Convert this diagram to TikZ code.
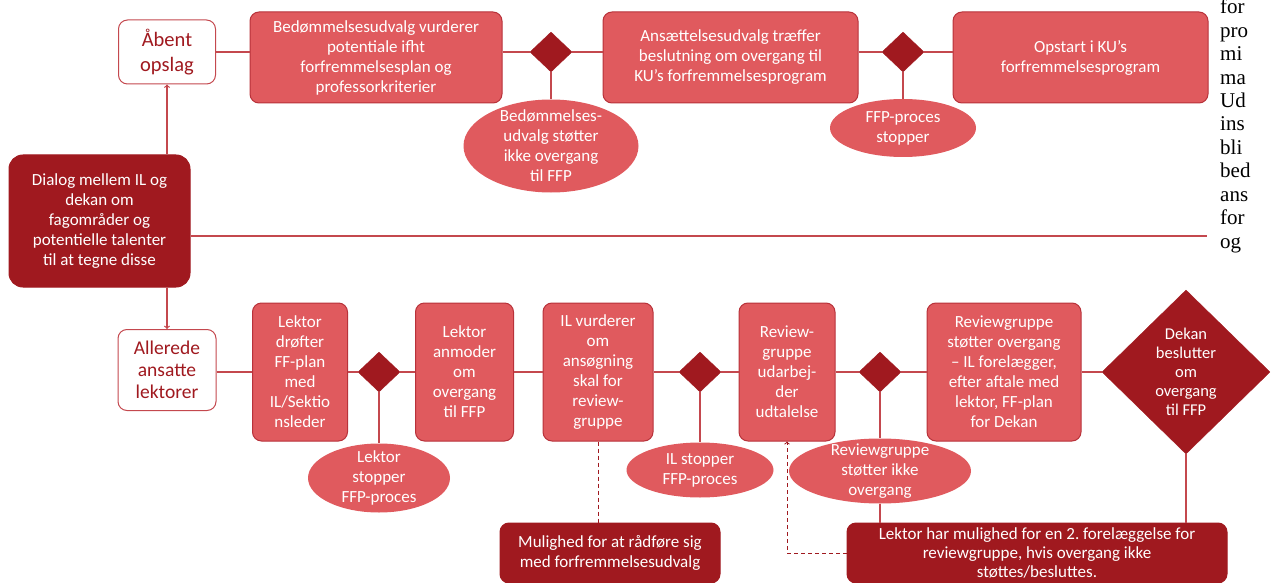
\documentclass[tikz,border=0pt]{standalone}
\usepackage{fontspec}
\setmainfont{Liberation Serif}
\setsansfont{Carlito}
\usepackage{tikz}
\usetikzlibrary{arrows,shapes.geometric}
\usetikzlibrary{positioning}
\tikzset{>=to}
\frenchspacing

\definecolor{kured}{HTML}{E05A5E}
\definecolor{kuedge}{HTML}{B8323A}
\definecolor{kudark}{HTML}{A0191F}
\definecolor{kuline}{HTML}{C4484E}

\begin{document}
\begin{tikzpicture}[x=1pt, y=-1pt, on grid,
	proc/.style={rectangle, rounded corners=9pt, draw=kuedge, line width=1pt, fill=kured, text=white, align=center, inner sep=1pt, font=\sffamily\fontsize{17}{20}\selectfont},
	entry/.style={rectangle, rounded corners=9pt, draw=kuline, line width=1pt, fill=white, text=kudark, align=center, font=\sffamily\fontsize{20.5}{24.5}\selectfont},
	note/.style={proc, fill=kudark, draw=kudark},
	decide/.style={diamond, fill=kudark, draw=kudark, inner sep=0pt, minimum width=42pt, minimum height=40pt},
	halt/.style={ellipse, fill=kured, text=white, align=center, inner xsep=0pt, inner ysep=-7pt, font=\sffamily\fontsize{17}{20}\selectfont},
	link/.style={draw=kuline, line width=1.2pt},
	hint/.style={draw=kudark, line width=1pt, dash pattern=on 4pt off 3pt}]
	\useasboundingbox (0,0) rectangle (1272,583);

	% top row
	\node[entry, minimum width=97pt, minimum height=64pt] (open) at (167,52) {Åbent\\opslag};
	\node[proc, minimum width=252pt, minimum height=91pt] (b1) at (376,57.5) {Bedømmelsesudvalg vurderer\\potentiale ifht\\forfremmelsesplan og\\professorkriterier};
	\node[decide] (d1) at (551,52) {};
	\node[halt, minimum width=175pt, minimum height=93pt] (e1) [below=94pt of d1] {Bedømmelses-\\udvalg støtter\\ikke overgang\\til FFP};
	\node[proc, minimum width=255pt, minimum height=91pt] (b2) at (730.5,57.5) {Ansættelsesudvalg træffer\\beslutning om overgang til\\KU's forfremmelsesprogram};
	\node[decide] (d2) at (903,52) {};
	\node[halt, minimum width=146pt, minimum height=58pt] (e2) [below=76pt of d2] {FFP-proces\\stopper};
	\node[proc, minimum width=255pt, minimum height=91pt] (b3) at (1080.5,57.5) {Opstart i KU's\\forfremmelsesprogram};

	% dialog
	\node[note, minimum width=181pt, minimum height=132pt, rounded corners=14pt] (talk) at (99.5,221) {Dialog mellem IL og\\dekan om\\fagområder og\\potentielle talenter\\til at tegne disse};
	\coordinate (rim) at (1207,236);

	% bottom row
	\node[entry, minimum width=98pt, minimum height=81pt, font=\sffamily\fontsize{19.5}{22}\selectfont] (late) at (167,370) {Allerede\\ansatte\\lektorer};
	\node[proc, minimum width=95pt, minimum height=138pt] (l1) at (300,372) {Lektor\\drøfter\\FF-plan\\med\\IL/Sektio\\nsleder};
	\node[decide] (d3) at (379,372) {};
	\node[halt, minimum width=142pt, minimum height=69pt] (e3) [below=106pt of d3] {Lektor\\stopper\\FFP-proces};
	\node[proc, minimum width=98pt, minimum height=138pt] (l2) at (464.5,372) {Lektor\\anmoder\\om\\overgang\\til FFP};
	\node[proc, minimum width=110pt, minimum height=138pt] (l3) at (598,372) {IL vurderer\\om\\ansøgning\\skal for\\review-\\gruppe};
	\node[decide] (d4) at (700,372) {};
	\node[halt, minimum width=147pt, minimum height=55pt] (e4) [below=98pt of d4] {IL stopper\\FFP-proces};
	\node[proc, minimum width=96pt, minimum height=138pt] (l4) at (787,372) {Review-\\gruppe\\udarbej-\\der\\udtalelse};
	\node[decide] (d5) at (880,372) {};
	\node[halt, minimum width=182pt, minimum height=65pt] (e5) [below=99pt of d5] {Reviewgruppe\\støtter ikke\\overgang};
	\node[proc, minimum width=154pt, minimum height=138pt] (l5) at (1004,372) {Reviewgruppe\\støtter overgang\\-- IL forelægger,\\efter aftale med\\lektor, FF-plan\\for Dekan};
	\node[decide, minimum width=168pt, minimum height=164pt, text=white, align=center, font=\sffamily\fontsize{16.5}{19}\selectfont] (dean) at (1186,372) {Dekan\\beslutter\\om\\overgang\\til FFP};
	\node[note, minimum width=220pt, minimum height=60pt] (ask) at (610,553) {Mulighed for at rådføre sig\\med forfremmelsesudvalg};
	\node[note, minimum width=380pt, minimum height=60pt, font=\sffamily\fontsize{17}{19}\selectfont] (again) at (1037,553) {Lektor har mulighed for en 2. forelæggelse for\\reviewgruppe, hvis overgang ikke\\støttes/besluttes.};

	% connectors
	\draw[link] (open.east) -- (b1.west |- open.east);
	\draw[link] (b1.east |- d1) -- (d1) -- (b2.west |- d1);
	\draw[link] (b2.east |- d2) -- (d2) -- (b3.west |- d2);
	\draw[link] (d1) -- (e1);
	\draw[link] (d2) -- (e2);
	\draw[link, ->] (talk.north -| open) -- (open);
	\draw[link, ->] (talk.south -| late) -- (late);
	\draw[link] (talk.east |- rim) -- (rim);
	\draw[link] (late.east |- d3) -- (l1.west |- d3);
	\draw[link] (l1.east |- d3) -- (d3) -- (l2.west |- d3);
	\draw[link] (l2.east |- d3) -- (l3.west |- d3);
	\draw[link] (l3.east |- d4) -- (d4) -- (l4.west |- d4);
	\draw[link] (l4.east |- d5) -- (d5) -- (l5.west |- d5);
	\draw[link] (l5.east |- dean) -- (dean);
	\draw[link] (d3) -- (e3);
	\draw[link] (d4) -- (e4);
	\draw[link] (d5) -- (e5);
	\draw[link] (e5) -- (again.north -| e5);
	\draw[link] (dean) -- (again.north -| dean);
	\draw[hint] (l3.south) -- (ask.north -| l3.south);
	\draw[hint, ->] (again.west) -| (l4.south);

	% cut-off page text at the right edge
	\foreach \word [count=\i] in {for,pro,mi,ma,Ud,ins,bli,bed,ans,for,og}
		\node[anchor=base west, inner sep=0pt, font=\rmfamily\fontsize{21}{23}\selectfont] (side\i) at (1220,{-9.4+23.4*\i}) {\word};
\end{tikzpicture}
\end{document}
